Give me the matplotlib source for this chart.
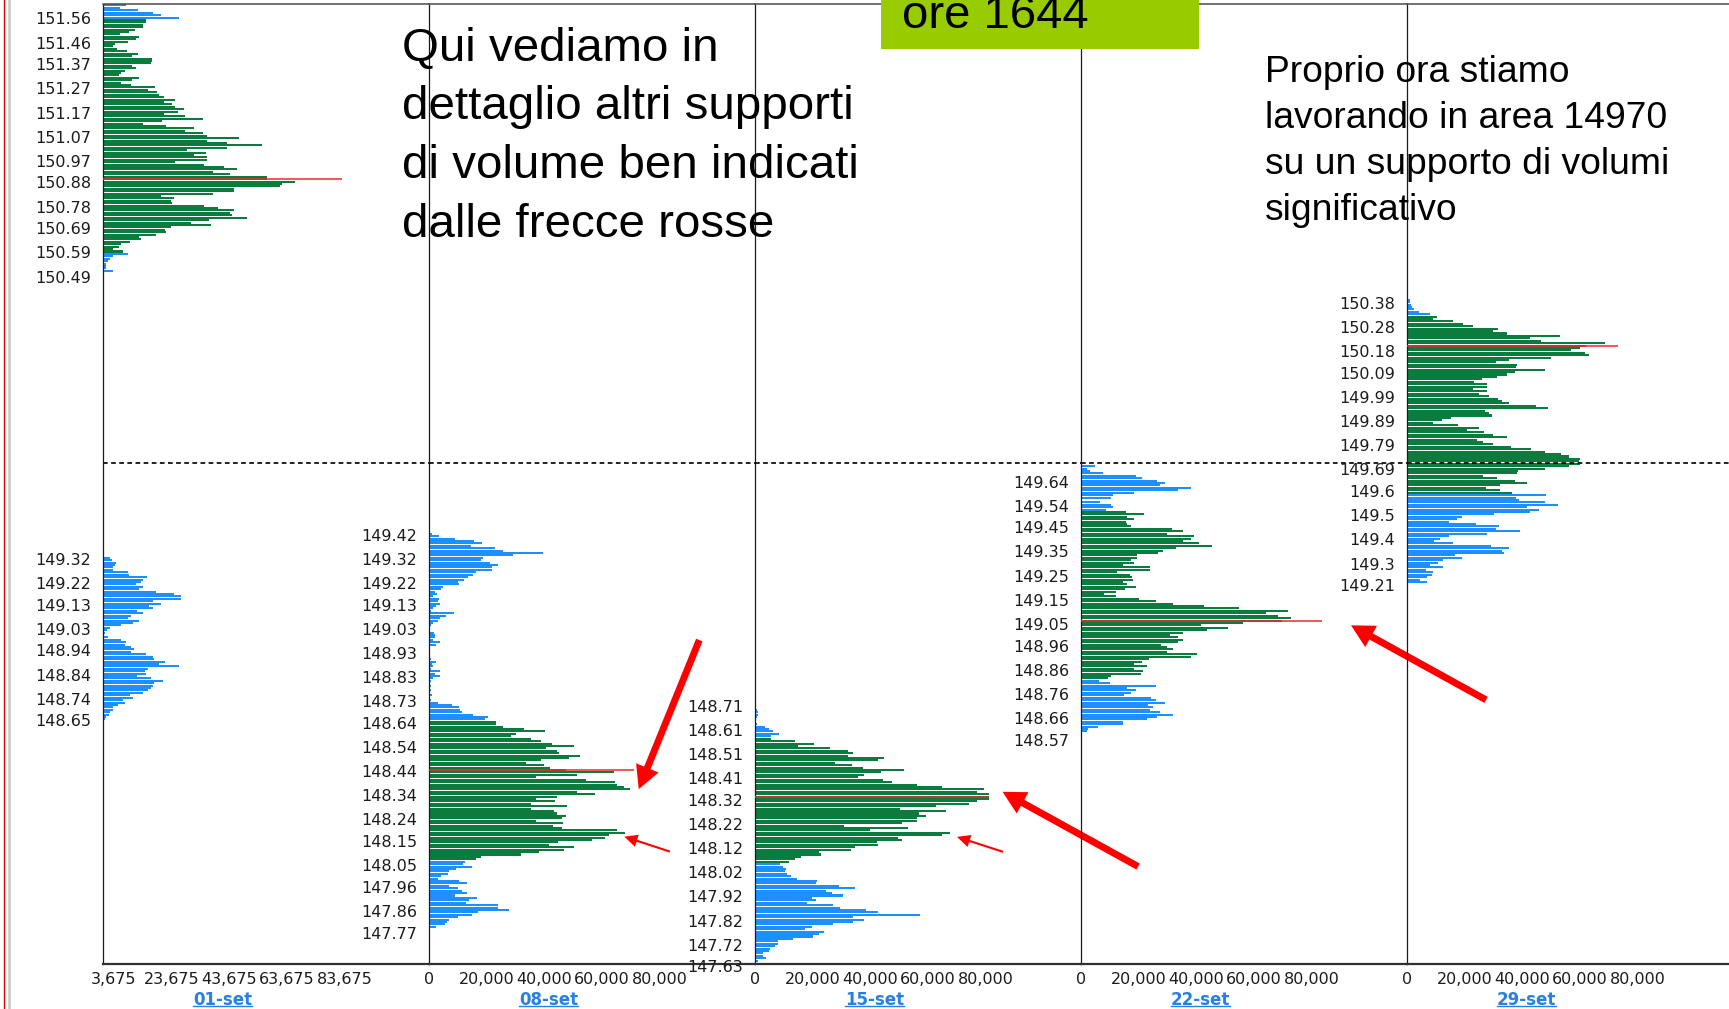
import numpy as np
import matplotlib
matplotlib.use("Agg")
import matplotlib.pyplot as plt
from matplotlib.lines import Line2D
from matplotlib.patches import Rectangle
from matplotlib.transforms import IdentityTransform

# ---------------------------------------------------------------- data
dates = ["01-set", "08-set", "15-set", "22-set", "29-set"]

xticks_first = [3.675, 23.675, 43.675, 63.675, 83.675]          # thousands
xlabels_first = ["3,675", "23,675", "43,675", "63,675", "83,675"]
xticks_other = [0, 20, 40, 60, 80]
xlabels_other = ["0", "20,000", "40,000", "60,000", "80,000"]

labels_p1 = ["151.56", "151.46", "151.37", "151.27", "151.17", "151.07", "150.97",
             "150.88", "150.78", "150.69", "150.59", "150.49",
             "149.32", "149.22", "149.13", "149.03", "148.94", "148.84", "148.74", "148.65"]
labels_p2 = ["149.42", "149.32", "149.22", "149.13", "149.03", "148.93", "148.83", "148.73",
             "148.64", "148.54", "148.44", "148.34", "148.24", "148.15", "148.05", "147.96",
             "147.86", "147.77"]
labels_p3 = ["148.71", "148.61", "148.51", "148.41", "148.32", "148.22", "148.12", "148.02",
             "147.92", "147.82", "147.72", "147.63"]
labels_p4 = ["149.64", "149.54", "149.45", "149.35", "149.25", "149.15", "149.05", "148.96",
             "148.86", "148.76", "148.66", "148.57"]
labels_p5 = ["150.38", "150.28", "150.18", "150.09", "149.99", "149.89", "149.79", "149.69",
             "149.6", "149.5", "149.4", "149.3", "149.21"]

# volume profiles (thousands) per 0.01 price level, from top price downwards
p1a_top = 151.62
p1a_vol = [8, 6, 12, 17.5, 20, 26.5,
           15, 15, 14, 14, 11, 9, 6, 12.5, 11.5, 8.6, 4, 3.5, 5, 8.4, 12, 10, 17, 17, 16.7, 10,
           11.5, 7.5, 6.3, 5.7, 12.6, 10, 6.3, 9.8, 18, 15.5, 18.6, 19.3, 21, 25, 21, 23.8, 25,
           28, 26, 21, 28.5, 34.5, 20.5, 14, 22, 31.6, 28.4, 34.5, 36, 47, 36, 43, 55, 43, 29,
           35.6, 31.6, 36, 36, 25, 35, 42, 46.5, 38, 44, 57, 57, 66.7, 62, 61.5, 45.4, 45.4, 38,
           20, 24.7, 23.6, 24, 35, 39.7, 45.4, 44, 44.8, 49.8, 36.8, 30.5, 37.4, 23.6, 21.5,
           21.8, 18.4, 12.6, 13.2, 9.2, 6.3, 5.7, 3.4, 6.9,
           8.6, 3.4, 2.3, 1.7, 1.1, 0.9, 0.9, 3.4, 0.5]
p1a_green = (150.60, 151.56)

p1b_top = 149.33
p1b_vol = [2.3, 3, 4.6, 4, 3.4, 3.4, 8.6, 9, 15.4, 14, 13.3, 11.6, 13.8, 12.4, 18.4, 24.5, 27,
           27, 17.5, 20, 16, 17.2, 11.7, 13.8, 9.8, 8.6, 12.4, 10.3, 6.3, 2.3, 1.4, 0.6, 0.5,
           1.7, 6.3, 8, 7.7, 9.8, 10.9, 9.8, 15, 17.5, 17.8, 21.6, 19.5, 26.2, 15.6, 14.4, 15,
           11.7, 16.7, 20.9, 17.8, 17.2, 16.7, 15.5, 13.8, 9.2, 10.3, 7.1, 7.5, 5.2, 3.4, 3.4,
           2.3, 2, 1.1, 0.6]
p1b_green = None

p2_top = 149.44
p2_vol = [0.5, 1.0, 3.4, 9.0, 15.7, 18.3, 14.4, 23.0, 25.5, 39.5, 29.0, 18.6, 18.0, 21.0, 23.8,
          22.0, 22.0, 16.3, 15.2, 13.4, 12.3, 10.0, 10.3, 5.0, 4.0, 2.0, 2.8, 1.4, 3.4, 3.0,
          3.7, 2.5, 1.4, 0.8, 8.6, 6.0, 3.7,
          3.2, 1.5, 0.8, 0.3, 0.2, 1.6, 2.0, 2.0, 1.4, 3.9, 2.5, 0.5, 0.3, 0.2, 0.2, 0.3, 0.6,
          2.5, 1.0, 1.4, 0.8, 3.9, 2.0, 3.9, 1.4, 0.8, 0.5, 0.8, 0.5, 0.6, 0.4, 1.1, 0.5, 0.6,
          3.0,
          8.0, 10.3, 10.8, 11.5, 15.2, 20.3, 19.5,
          23.2, 23.2, 25.5, 32.8, 40.2, 30.1, 28.4, 35.3, 38.7, 42.8, 50.2, 40.5, 44.5, 45,
          52.5, 48.5, 38.7, 33.6, 40, 42, 47.4, 64, 51.4, 37, 54.3, 64.6, 65.2, 67.7, 69.5,
          51.4, 57.7, 44.5, 37, 43.7, 35.3, 48, 35.3, 43.3, 44.5, 47.4, 46, 37, 46.4, 43, 46.2,
          65.2, 67.8, 62.3, 61, 56.5, 44.8, 41.6, 50.2, 46.8, 38, 31.8, 18, 16.3,
          12.6, 11.7, 14.8, 9.4, 7.1, 6.5, 4.2, 3.1, 10.3, 13.1, 6.9, 10.2, 11.4, 13.1, 8.9,
          16.6, 14, 12.9, 24, 23.8, 27.8, 16.9, 15, 10, 7.1, 6.2, 5.7, 2.5, 0.3]
p2_green = (148.08, 148.65)

p3_top = 148.73
p3_vol = [0.3, 0.2, 0.5, 0.8, 1.1, 1.1, 0.8, 0.3, 0.3, 0.6, 3.4, 4.8, 6.3, 8.4, 5.7,
          5.7, 13.8, 20.3, 15, 26, 32.2, 33.9, 32.2, 44.8, 42.5, 27.9, 33.7, 37.4, 51.7, 43.7,
          37.9, 35.6, 44.3, 47.5, 56.1, 64.7, 79.3, 77, 81, 81, 81, 77, 74.1, 62.9, 50.3, 66.1,
          56.7, 59.4, 56.3, 56, 51.1, 31, 52.9, 39.7, 67.5, 64.9, 49.4, 51.1, 42.2, 42.5, 34.5,
          33.3, 22.2, 22.8, 16.1, 13.8, 11.8,
          8.6, 9.8, 10.9, 10.3, 11.1, 12.6, 14.6, 21.5, 21.3, 29.1, 34.5, 24.5, 26.8, 30.5,
          19.9, 21.3, 18, 27, 29.5, 38.5, 42.5, 57.1, 34.1, 37.9, 34.1, 27.2, 19.9, 17.2, 23.8,
          22.2, 20.1, 13.2, 8, 8, 6.9, 5.2, 4.8, 2.9, 2.9, 3.7, 1.1]
p3_green = (148.07, 148.58)

p4_top = 149.71
p4_vol = [4.7, 2.1, 3.2, 7.5, 19, 21.3, 26.2, 29.1, 27.4, 38, 33.7, 18.4, 11, 10.5, 0.3, 6.7,
          10.5, 11, 8.7,
          15.5, 21.8, 16.1, 18.4, 15.6, 15.9, 17.2, 31.4, 35.2, 29.7, 39.3, 38.3, 35.4, 40.9,
          45.5, 32.9, 28.5, 26.8, 19.3, 19.5, 17.2, 18.4, 14.5, 23.9, 23.9, 12.6, 17, 17.6,
          17.9, 14.5, 16.1, 19, 15.3, 12.2, 7.8, 12.2, 20.2, 25.9, 32, 42.6, 54.9, 71.8, 64.1,
          68.2, 72.8, 69.7, 56.3, 41.7, 51.1, 43.8, 35.4, 30.8, 33.7, 35.2, 33.7, 27.9, 29.7,
          32, 29.7, 40.3, 38.3, 23.6, 21.1, 18.4, 23, 18.2, 21.6, 20.7, 10.3, 9.2,
          6.3, 9.9, 25.9, 16.1, 19, 17.2, 14.9, 24.1, 25.9, 29.1, 23.1, 25.1, 23.9, 27.4, 32,
          26.2, 22.8, 14.5, 14.7, 5.9, 2.5, 2.1, 0.3]
p4_green = (148.83, 149.52)

p5_top = 150.42
p5_vol = [0.3, 0.5, 1.1, 0.9, 1.5, 1.8, 2.3, 4, 8,
          10.3, 9, 16.1, 19.5, 23, 31.4, 29.9, 34.7, 53.2, 42.5, 46.6, 68.6, 62, 60.1, 56.9,
          61.8, 63, 50, 35.4, 30.8, 38.2, 37.9, 47.7, 37.4, 34.7, 31.3, 25.9, 23.3, 27.6, 27.8,
          23, 27.9, 25.1, 28.5, 31.6, 32.8, 35.3, 44.8, 48.9, 27, 28.5, 29.5, 15.2, 12.1, 9,
          17.8, 25.1, 20.7, 26.8, 29.9, 34.7, 24.1, 26.2, 29.9, 35.9, 43.1, 47.7, 53.4, 56.1,
          60.1, 59.5, 59.8, 56.1, 47.7, 38.5, 38.2, 26.2, 31.3, 37.6, 41.6, 32.4, 27.4, 32.2,
          36.4,
          48.3, 37.7, 38.9, 47.7, 52.3, 41.6, 45.7, 42.5, 30.1, 19.2, 17.2, 14.4, 23.9, 32, 31,
          39.3, 27.6, 14.4, 11.3, 9.4, 16.1, 29.1, 35.3, 33, 33.6, 16.7, 19, 12.4, 10.9, 8,
          12.6, 6.6, 9, 8.6, 6.9, 4.6, 7.1, 0.5]
p5_green = (149.60, 150.33)

poc_price = [150.90, 148.45, 148.34, 149.07, 150.21]
poc_vol = [83, 71, 81, 83.7, 73.2]
current_price = 149.725

# arrows: panel index, tip (volume, price), tail (volume, price), big?
arrow_panel = [1, 1, 2, 2, 3]
arrow_tip_vol = [72.7, 67.7, 85.8, 70.0, 93.6]
arrow_tip_price = [148.371, 148.174, 148.360, 148.173, 149.050]
arrow_tail_vol = [93.7, 83.5, 132.8, 86.0, 140.4]
arrow_tail_price = [148.989, 148.112, 148.050, 148.111, 148.741]
arrow_big = [True, False, True, False, True]

# ---------------------------------------------------------------- figure
W, H = 1729, 1009
fig = plt.figure(figsize=(W / 100, H / 100), dpi=100)
fig.patch.set_facecolor("white")

BLUE = "#1e8fff"
GREEN = "#0b7b3e"
RED = "#f02828"
PX_PER_K = 2.885
PANEL_PX = 326
base_px = [103 + PANEL_PX * k for k in range(5)]
top_px, bot_px = 4.5, 964.0
ymin, ymax = 147.646, 151.624

segments = [
    (0, p1a_top, p1a_vol, p1a_green),
    (0, p1b_top, p1b_vol, p1b_green),
    (1, p2_top, p2_vol, p2_green),
    (2, p3_top, p3_vol, p3_green),
    (3, p4_top, p4_vol, p4_green),
    (4, p5_top, p5_vol, p5_green),
]
all_labels = [labels_p1, labels_p2, labels_p3, labels_p4, labels_p5]

axes = []
for k in range(5):
    left = base_px[k]
    width_px = PANEL_PX if k < 4 else W - left
    ax = fig.add_axes([left / W, (H - bot_px) / H, width_px / W, (bot_px - top_px) / H])
    ax.set_facecolor("none")
    ax.set_xlim(0, width_px / PX_PER_K)
    ax.set_ylim(ymin, ymax)
    ax.set_yticks([])
    ax.spines["right"].set_visible(False)
    ax.spines["top"].set_color("#4a4a4a")
    ax.spines["top"].set_linewidth(1.1)
    ax.spines["bottom"].set_color("#303030")
    ax.spines["bottom"].set_linewidth(1.6)
    ax.spines["left"].set_color("#1a1a1a")
    ax.spines["left"].set_linewidth(0.9)
    if k == 0:
        ax.set_xticks(xticks_first, xlabels_first)
    else:
        ax.set_xticks(xticks_other, xlabels_other)
    ax.tick_params(axis="x", length=0, pad=5.5, labelsize=11.5, labelcolor="#1c1c1c")
    axes.append(ax)

# bars
for panel, top, vols, green in segments:
    ax = axes[panel]
    vols = np.asarray(vols, dtype=float)
    prices = np.round(top - 0.01 * np.arange(len(vols)), 2)
    if green is None:
        colors = [BLUE] * len(vols)
    else:
        colors = [GREEN if green[0] - 1e-6 <= p <= green[1] + 1e-6 else BLUE for p in prices]
    ax.barh(prices, vols, height=0.0084, color=colors, linewidth=0, zorder=2)

# POC lines, current price line, price labels, date labels
date_texts = []
for k, ax in enumerate(axes):
    ax.hlines(poc_price[k], 0, poc_vol[k], color=RED, lw=1.1, zorder=3)
    ax.axhline(current_price, color="#111111", lw=1.3, ls=(0, (2.6, 1.9)), zorder=4)
    for lab in all_labels[k]:
        ax.text(-12 / PX_PER_K, float(lab), lab, ha="right", va="center",
                fontsize=11.5, color="#1c1c1c", clip_on=False)
    t = ax.annotate(dates[k], xy=(41.5, 0), xycoords=("data", "axes fraction"),
                    xytext=(0, -26), textcoords="offset points", ha="center", va="center",
                    fontsize=12, fontweight="bold", color="#2a80e0", annotation_clip=False)
    date_texts.append(t)

# arrows
for i in range(len(arrow_panel)):
    ax = axes[arrow_panel[i]]
    if arrow_big[i]:
        style = "simple,head_length=1.65,head_width=1.75,tail_width=0.5"
    else:
        style = "simple,head_length=0.95,head_width=0.9,tail_width=0.15"
    ax.annotate("", xy=(arrow_tip_vol[i], arrow_tip_price[i]),
                xytext=(arrow_tail_vol[i], arrow_tail_price[i]),
                arrowprops=dict(arrowstyle=style, fc="#ff0000", ec="none",
                                mutation_scale=10, shrinkA=0, shrinkB=0),
                annotation_clip=False, zorder=6)

# left window borders
fig.add_artist(Line2D([3.5 / W, 3.5 / W], [0, 1], transform=fig.transFigure,
                      color="#e00000", lw=1.0))
fig.add_artist(Line2D([8.8 / W, 8.8 / W], [0, 1], transform=fig.transFigure,
                      color="#c8c8c8", lw=1.8))

# annotation texts
fig.text(402 / W, 1 - 26.5 / H,
         "Qui vediamo in\ndettaglio altri supporti\ndi volume ben indicati\ndalle frecce rosse",
         ha="left", va="top", fontsize=34.2, family="Liberation Sans", color="black",
         linespacing=1.44, zorder=5)
fig.text(1265 / W, 1 - 55 / H,
         "Proprio ora stiamo\nlavorando in area 14970\nsu un supporto di volumi\nsignificativo",
         ha="left", va="top", fontsize=26.8, family="Liberation Sans", color="black",
         linespacing=1.41, zorder=5)

fig.add_artist(Rectangle((881 / W, 1 - 48.5 / H), 318 / W, 48.5 / H + 0.01,
                         transform=fig.transFigure, facecolor="#99cc00", edgecolor="none",
                         zorder=5))
fig.text(902 / W, 1 - 28.5 / H, "ore 1644", ha="left", va="baseline", fontsize=34,
         family="Liberation Sans", color="black", zorder=6)

# underline the date labels
fig.canvas.draw()
for t in date_texts:
    bb = t.get_window_extent()
    y = bb.y0 + 0.2 * bb.height
    fig.add_artist(Line2D([bb.x0, bb.x1], [y, y], transform=IdentityTransform(),
                          color="#2a80e0", lw=1.0))

fig.savefig("out.png", dpi=100, facecolor="white")
